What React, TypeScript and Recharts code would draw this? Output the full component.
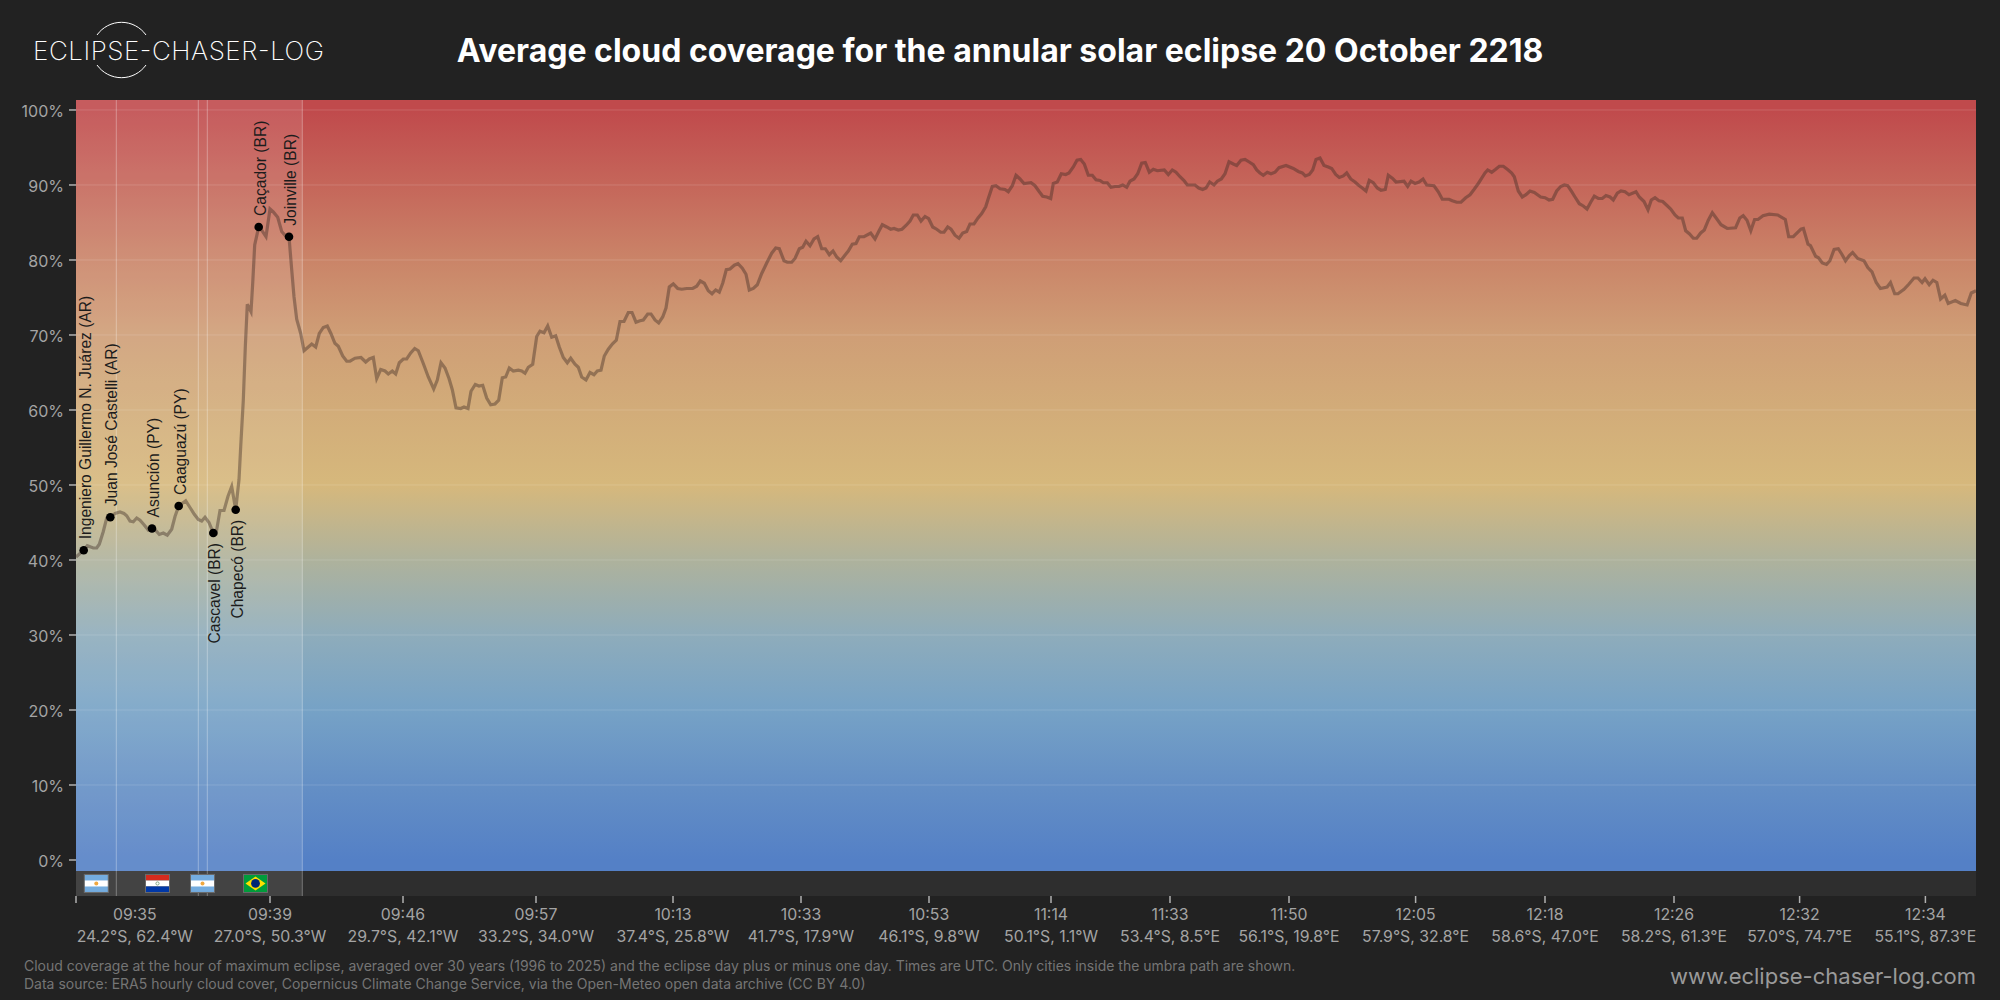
import React from "react";
import {
  ComposedChart,
  Line,
  ReferenceArea,
  ReferenceDot,
  ReferenceLine,
  XAxis,
  YAxis,
} from "recharts";

// [distance along the central line, cloud cover %]
const cloudTrace: [number, number][] = [
  [0, 40.4], [7.7, 41.3], [11.3, 41.9], [17.3, 41.6], [20.7, 41.6], [23.3, 42.1], [27.3, 43.8], [30.7, 45.6], [34.3, 45.7], [39, 46.2],
  [44, 46.4], [48, 46.2], [50.7, 45.9], [54, 45.2], [57.3, 45.1], [60.7, 45.6], [64, 45.3], [68, 44.7], [72.3, 44], [76, 44.2],
  [80, 43.9], [83.3, 43.4], [87.3, 43.6], [91.3, 43.3], [95.7, 44.1], [99, 45.8], [102.7, 47.2], [106.7, 47.6], [109.7, 47.9], [114, 47],
  [118.3, 46.1], [122.3, 45.4], [125.7, 45.2], [129, 45.7], [133, 45], [137.3, 43.6], [140, 43.5], [144, 46.6], [148, 46.6], [152, 48.5],
  [155.7, 49.8], [159.7, 46.7], [163, 50.7], [164.7, 55.1], [167.3, 61.3], [169.3, 68.4], [171.3, 74.1], [175, 73.1], [176.7, 76.9], [178.7, 82],
  [182.7, 84.4], [186, 83.9], [190, 83.1], [194, 86.8], [197.3, 86.4], [201.7, 85.7], [205.7, 83.8], [209.7, 83.2], [213, 83.1], [215.7, 78.7],
  [218, 75.1], [220.7, 72.1], [224.7, 70.2], [228, 67.9], [235.7, 68.8], [239.7, 68.4], [243.3, 70.2], [247.3, 71], [251.3, 71.2], [254.9, 70.2],
  [258.9, 68.9], [262.3, 68.5], [266.7, 67.2], [270.7, 66.5], [274, 66.5], [279, 66.9], [285, 67], [289.7, 66.4], [293.3, 66.8], [297.3, 67],
  [300.7, 64.2], [304.7, 65.4], [309, 65.2], [312.3, 64.8], [316.3, 65.2], [319.7, 64.8], [323.3, 66.3], [327.3, 66.8], [330.7, 66.8], [334.7, 67.6],
  [338.7, 68.2], [342.3, 67.9], [347.3, 66.2], [352.3, 64.4], [357.7, 62.8], [361.3, 64], [365, 66.3], [369, 65.6], [373, 64.2], [376.3, 62.7],
  [380, 60.3], [384.7, 60.2], [388, 60.4], [392, 60.2], [395, 62.5], [399.3, 63.4], [403, 63.2], [406.7, 63.3], [410.7, 61.6], [414.7, 60.7],
  [419, 60.8], [422.7, 61.3], [426.3, 64.3], [429.7, 64.4], [433.3, 65.6], [437.3, 65.2], [442.3, 65.3], [445.7, 65.2], [449, 64.9], [452.3, 65.7],
  [456.7, 66.1], [460.7, 69.8], [464, 70.5], [468, 70.3], [471.7, 71.2], [475.7, 69.7], [479.7, 69.9], [483.3, 68.4], [487.3, 67], [491.3, 66.3],
  [494.7, 66.9], [499, 66.1], [502.3, 65.7], [505.7, 64.4], [510, 64], [514, 65], [518, 64.7], [521.3, 65.2], [525, 65.3], [528.3, 67.2],
  [532.3, 68.1], [536.3, 68.8], [540.3, 69.3], [544, 71.8], [548, 71.8], [552.3, 73], [556, 73], [560, 71.7], [564, 71.9], [567.3, 72],
  [571.7, 72.8], [575, 72.8], [579, 72], [582.7, 71.6], [586.7, 72.4], [590, 73.6], [593.3, 76.4], [597.3, 76.8], [601.7, 76.2], [605.7, 76.1],
  [610.7, 76.2], [616.7, 76.2], [620.7, 76.5], [624.3, 77.2], [628.3, 76.9], [632.3, 75.9], [636, 75.5], [639.7, 76], [643.3, 75.7], [646.7, 76.9],
  [650.3, 78.7], [654, 78.8], [658.3, 79.3], [662, 79.5], [666.3, 78.9], [670, 78.1], [673.3, 76], [677.3, 76.2], [681.3, 76.7], [685.7, 78.2],
  [690.7, 79.6], [695.7, 80.9], [699.7, 81.6], [703.3, 81.5], [708, 79.9], [711.3, 79.7], [715.7, 79.7], [719, 80.2], [723.3, 81.5], [726.7, 81.7],
  [730, 82.5], [734, 81.9], [738, 82.8], [741.7, 83.1], [745.7, 81.5], [749.3, 81.5], [753.3, 80.7], [757, 81.2], [760.7, 80.4], [764.7, 79.9],
  [768.7, 80.6], [772.3, 81.2], [776.3, 82.1], [780, 82.2], [783.3, 83.1], [788, 83.1], [794.7, 83.6], [799, 82.8], [802.7, 83.8], [806.3, 84.7],
  [810.7, 84.4], [814.7, 84.1], [818, 84.2], [822.3, 84], [826, 84.1], [830, 84.6], [834, 85.2], [837.3, 86], [841.3, 86], [845, 85.2],
  [849, 85.8], [852.7, 85.5], [856.7, 84.4], [860.7, 84.1], [864.7, 83.7], [868, 83.7], [871.7, 84.4], [875, 84.1], [879, 83.3], [883, 82.9],
  [886.7, 83.6], [890.7, 83.8], [894, 84.8], [898, 84.8], [902, 85.6], [905.7, 86.2], [909.7, 87.1], [912.3, 88.2], [916.3, 89.8], [920, 89.9],
  [924, 89.5], [929, 89.4], [932.3, 89.1], [936.3, 89.9], [940, 91.3], [944, 90.8], [948, 90.2], [955, 90.3], [959, 89.9], [963.3, 89.1],
  [966.7, 88.5], [970.7, 88.4], [974.7, 88.2], [977.3, 90.2], [981.3, 90.4], [985.3, 91.5], [989.7, 91.4], [993, 91.6], [997.3, 92.4], [1001, 93.3],
  [1004.7, 93.4], [1008.3, 92.8], [1012.3, 91.3], [1016.3, 91.3], [1020, 90.7], [1024, 90.6], [1027.3, 90.3], [1031.3, 90.3], [1035, 89.7], [1039, 89.8],
  [1043, 89.8], [1046.7, 90], [1050.7, 89.7], [1054, 90.5], [1058, 90.8], [1061.7, 91.5], [1065.7, 92.9], [1069.3, 93], [1073.3, 91.7], [1077.3, 92.1],
  [1081.3, 91.9], [1088.3, 92], [1092.3, 91.4], [1096.3, 92], [1100, 91.7], [1104, 91.1], [1108, 90.6], [1111.3, 90], [1119, 90], [1122.7, 89.6],
  [1126.7, 89.4], [1130, 89.6], [1133.7, 90.4], [1138, 90], [1141.3, 90.5], [1145.3, 90.8], [1149, 91.5], [1153, 93.1], [1157.3, 92.8], [1160.7, 92.6],
  [1165, 93.3], [1169, 93.4], [1174, 93], [1177.3, 92.7], [1180.7, 92], [1184, 91.6], [1187.3, 91.3], [1191.3, 91.7], [1195, 91.5], [1199, 91.7],
  [1203, 92.3], [1210, 92.6], [1217.3, 92.2], [1222.3, 91.8], [1226.3, 91.6], [1229.3, 91.2], [1233.3, 91.4], [1236.7, 92], [1240, 93.4], [1244, 93.6],
  [1248, 92.6], [1252.3, 92.4], [1255.7, 92.2], [1259.7, 91.4], [1263.3, 91], [1267.3, 91.2], [1270.7, 91.6], [1274.7, 90.8], [1279, 90.4], [1282.3, 90],
  [1286.3, 89.6], [1290, 89.2], [1293.3, 90.6], [1297.3, 90.3], [1301.3, 89.6], [1305, 89.3], [1309.3, 89.4], [1312.3, 91.3], [1316.3, 90.9], [1320, 90.4],
  [1328, 90.5], [1331.7, 89.8], [1335, 90.5], [1339, 90.2], [1343, 90.4], [1347, 90.8], [1350.7, 90], [1358, 89.9], [1362.3, 89.1], [1366.3, 88.1],
  [1373, 88.1], [1376.3, 87.9], [1380.7, 87.7], [1385, 87.7], [1389.7, 88.3], [1394, 88.7], [1398, 89.4], [1402.3, 90.2], [1405.7, 90.9], [1409, 91.6],
  [1411.7, 92], [1415.7, 91.7], [1419.7, 92.1], [1423.3, 92.5], [1427.3, 92.5], [1431.3, 92.1], [1435.7, 91.6], [1438.3, 91.1], [1442.3, 89.2], [1446.3, 88.4],
  [1450, 88.7], [1454, 89.2], [1458.3, 89], [1464.7, 88.4], [1469, 88.3], [1473, 88], [1476.7, 88.1], [1480.7, 89.2], [1484.7, 89.8], [1488.3, 90],
  [1491.7, 89.9], [1495.7, 89.1], [1499, 88.4], [1503.3, 87.5], [1507.3, 87.2], [1511, 86.8], [1514.7, 87.7], [1518.3, 88.5], [1522.3, 88.2], [1526.3, 88.2],
  [1530, 88.6], [1534, 88.4], [1537.3, 88], [1541.3, 88.9], [1545, 89.2], [1549, 89.1], [1553, 88.7], [1560, 89.1], [1563.3, 88.4], [1568, 87.8],
  [1572, 86.7], [1575.3, 88], [1579, 88.3], [1583, 87.9], [1586.7, 87.8], [1590.7, 87.3], [1594.7, 86.8], [1599, 86], [1602.3, 85.6], [1606.3, 85.6],
  [1609.7, 83.9], [1613.3, 83.5], [1617.3, 82.9], [1620.7, 82.9], [1624.7, 83.6], [1628.3, 84], [1632.3, 85.3], [1636.3, 86.3], [1640.7, 85.5], [1645, 84.7],
  [1651.2, 84.2], [1659.6, 84.3], [1663.8, 85.6], [1667.2, 85.9], [1671, 85.3], [1674.8, 83.9], [1678.6, 85.4], [1682, 85.4], [1687, 85.9], [1693.3, 86.1],
  [1701.7, 86], [1709.3, 85.4], [1712.7, 83.1], [1717.3, 83.1], [1724.9, 84.1], [1727.4, 84.2], [1732, 82.1], [1734.5, 81.9], [1739.6, 80.5], [1742.5, 80.3],
  [1746.3, 79.6], [1750.5, 79.4], [1753.9, 79.9], [1758.1, 81.4], [1762.3, 81.5], [1765.7, 80.8], [1769.5, 79.9], [1773.3, 80.6], [1776.6, 81], [1781.7, 80.2],
  [1788, 79.9], [1791.8, 79], [1796, 78.4], [1800.2, 77], [1804.4, 76.2], [1811.1, 76.4], [1814.5, 77], [1818.7, 75.5], [1822, 75.5], [1828, 76.1],
  [1833, 76.8], [1838, 77.6], [1841.9, 77.6], [1846.1, 77], [1849, 77.5], [1853.2, 76.7], [1857, 77.3], [1860.8, 77], [1864.6, 74.8], [1868.8, 75.3],
  [1872.2, 74.2], [1879.3, 74.6], [1884.8, 74.2], [1891.1, 74], [1895.3, 75.6], [1900, 75.9],
];

const tickAlong = [0, 194, 327, 460, 597, 725, 853, 975, 1094, 1213, 1339.6, 1469, 1598, 1723.6, 1849.4];
const tickTimes = ["09:35", "09:39", "09:46", "09:57", "10:13", "10:33", "10:53", "11:14", "11:33", "11:50", "12:05", "12:18", "12:26", "12:32", "12:34"];
const tickCoords = [
  "24.2°S, 62.4°W", "27.0°S, 50.3°W", "29.7°S, 42.1°W", "33.2°S, 34.0°W", "37.4°S, 25.8°W",
  "41.7°S, 17.9°W", "46.1°S, 9.8°W", "50.1°S, 1.1°W", "53.4°S, 8.5°E", "56.1°S, 19.8°E",
  "57.9°S, 32.8°E", "58.6°S, 47.0°E", "58.2°S, 61.3°E", "57.0°S, 74.7°E", "55.1°S, 87.3°E",
];
const yTicks = [0, 10, 20, 30, 40, 50, 60, 70, 80, 90, 100];

const cityNames = [
  "Ingeniero Guillermo N. Juárez (AR)", "Juan José Castelli (AR)", "Asunción (PY)", "Caaguazú (PY)",
  "Cascavel (BR)", "Chapecó (BR)", "Caçador (BR)", "Joinville (BR)",
];
const cityAlong = [7.7, 34.3, 76, 102.7, 137.3, 159.7, 182.7, 213];
const cityCover = [41.3, 45.7, 44.2, 47.2, 43.6, 46.7, 84.4, 83.1];
const namesBelow = ["Cascavel (BR)", "Chapecó (BR)"];

// borders between countries and the end of the land part of the path
const borderAlong = [40.3, 122.3, 131.3, 226.3];
const landEnd = 226.3;

const flagCountries = ["AR", "PY", "AR", "BR"];
const flagAlong = [20.3, 81.5, 126.5, 179.5];

const colorStops: [number, string][] = [
  [100, "#c04a4c"],
  [90, "#c5665a"],
  [80, "#ca8468"],
  [70, "#cf9e76"],
  [60, "#d2ac79"],
  [50, "#d6b87c"],
  [40, "#aeb29c"],
  [30, "#8eacbb"],
  [20, "#76a2c6"],
  [10, "#648fc5"],
  [0, "#5480c6"],
];

const Y_MAX = 101.33;
const PLOT_FLOOR = -1.47;
const BAND_FLOOR = -4.8;
const FONT = "Inter, sans-serif";

const rows = cloudTrace.map(([along, cover]) => ({ along, cover }));

function Flag({ cx, cy, country }: { cx: number; cy: number; country: string }) {
  const w = 24;
  const h = 18;
  const x = cx - w / 2;
  const y = cy - h / 2;
  const third = h / 3;
  return (
    <g>
      {country === "AR" && (
        <>
          <rect x={x} y={y} width={w} height={h} fill="#74acdf" />
          <rect x={x} y={y + third} width={w} height={third} fill="#fff" />
          <circle cx={cx} cy={cy} r={2} fill="#f0a840" />
        </>
      )}
      {country === "PY" && (
        <>
          <rect x={x} y={y} width={w} height={third} fill="#d52b1e" />
          <rect x={x} y={y + third} width={w} height={third} fill="#fff" />
          <rect x={x} y={y + 2 * third} width={w} height={third} fill="#0038a8" />
          <circle cx={cx} cy={cy} r={1.6} fill="none" stroke="#5a8a5a" strokeWidth={0.7} />
        </>
      )}
      {country === "BR" && (
        <>
          <rect x={x} y={y} width={w} height={h} fill="#009c3b" />
          <polygon points={`${cx},${y + 2} ${x + w - 2},${cy} ${cx},${y + h - 2} ${x + 2},${cy}`} fill="#ffdf00" />
          <circle cx={cx} cy={cy} r={4.4} fill="#002776" />
        </>
      )}
      <rect x={x} y={y} width={w} height={h} fill="none" stroke="#6a6a6a" strokeWidth={1} />
    </g>
  );
}

function CityMark({ cx, cy, name }: { cx: number; cy: number; name: string }) {
  const below = namesBelow.includes(name);
  const tx = cx + 7;
  const ty = below ? cy + 10 : cy - 11;
  return (
    <g>
      <circle cx={cx} cy={cy} r={4.3} fill="#000" />
      <text
        x={tx}
        y={ty}
        transform={`rotate(-90 ${tx} ${ty})`}
        textAnchor={below ? "end" : "start"}
        fontFamily="'Liberation Sans', Arial, sans-serif"
        fontSize={15.6}
        fill="#1c1c1c"
      >
        {name}
      </text>
    </g>
  );
}

function PathTick({ x, y, payload, index }: any) {
  const first = index === 0;
  const cx = first ? x + 58.8 : x;
  return (
    <g fontFamily={FONT} fill="#a4a4a4" textAnchor="middle">
      <text x={cx} y={y + 15} fontSize={15.8}>
        {tickTimes[tickAlong.indexOf(payload.value)]}
      </text>
      <text x={cx} y={y + 37} fontSize={15.8}>
        {tickCoords[tickAlong.indexOf(payload.value)]}
      </text>
    </g>
  );
}

export default function App() {
  return (
    <div style={{ position: "absolute", left: 0, top: 0, width: 2000, height: 1000, background: "#222222", overflow: "hidden" }}>
      <svg width={360} height={100} style={{ position: "absolute", left: 0, top: 0 }}>
        <path d="M97 35 A30 30 0 0 1 146 35" fill="none" stroke="#fff" strokeWidth={1} />
        <path d="M97 65 A30 30 0 0 0 146 65" fill="none" stroke="#fff" strokeWidth={1} />
        <text x={33} y={59.5} fontFamily={FONT} fontWeight={200} fontSize={26} fill="#fff" textLength={291}>
          ECLIPSE-CHASER-LOG
        </text>
      </svg>
      <div
        style={{
          position: "absolute",
          left: 0,
          width: 2000,
          top: 30,
          textAlign: "center",
          fontFamily: FONT,
          fontWeight: 700,
          fontSize: 32,
          lineHeight: "42px",
          color: "#fff",
        }}
      >
        Average cloud coverage for the annular solar eclipse 20 October 2218
      </div>

      <ComposedChart
        width={2000}
        height={1000}
        data={rows}
        margin={{ top: 100, right: 24, bottom: 0, left: 0 }}
        style={{ position: "absolute", left: 0, top: 0 }}
      >
        <defs>
          <linearGradient id="cloudGradient" x1="0" y1="0" x2="0" y2="1">
            {colorStops.map(([value, color]) => (
              <stop key={value} offset={(Y_MAX - value) / (Y_MAX - PLOT_FLOOR)} stopColor={color} />
            ))}
          </linearGradient>
        </defs>
        <XAxis
          type="number"
          dataKey="along"
          domain={[0, 1900]}
          ticks={tickAlong}
          interval={0}
          height={104}
          axisLine={false}
          tickLine={{ stroke: "#b0b0b0", strokeWidth: 1.5 }}
          tickSize={7}
          tick={<PathTick />}
        />
        <YAxis
          type="number"
          domain={[BAND_FLOOR, Y_MAX]}
          ticks={yTicks}
          interval={0}
          width={76}
          axisLine={false}
          tickLine={{ stroke: "#b0b0b0", strokeWidth: 1.5 }}
          tickSize={7}
          tickMargin={5}
          tick={{ fill: "#a4a4a4", fontSize: 16, fontFamily: FONT, dy: 1 }}
          tickFormatter={(v) => `${v}%`}
        />
        <ReferenceArea x1={0} x2={1900} y1={PLOT_FLOOR} y2={Y_MAX} fill="url(#cloudGradient)" fillOpacity={1} stroke="none" />
        <ReferenceArea x1={0} x2={1900} y1={BAND_FLOOR} y2={PLOT_FLOOR} fill="#2e2e2e" fillOpacity={1} stroke="none" />
        {yTicks.slice(1).map((v) => (
          <ReferenceLine key={v} y={v} stroke="rgba(255,255,255,0.14)" strokeWidth={1} />
        ))}
        <ReferenceArea x1={0} x2={landEnd} y1={BAND_FLOOR} y2={Y_MAX} fill="#ffffff" fillOpacity={0.1} stroke="none" />
        {borderAlong.map((x) => (
          <ReferenceLine key={x} x={x} stroke="rgba(255,255,255,0.32)" strokeWidth={1} />
        ))}
        <Line
          dataKey="cover"
          type="linear"
          stroke="rgba(62,44,36,0.42)"
          strokeWidth={3.2}
          dot={false}
          activeDot={false}
          isAnimationActive={false}
        />
        {cityNames.map((name, i) => (
          <ReferenceDot
            key={name}
            x={cityAlong[i]}
            y={cityCover[i]}
            shape={(p: any) => <CityMark cx={p.cx} cy={p.cy} name={name} />}
          />
        ))}
        {flagCountries.map((country, i) => (
          <ReferenceDot
            key={i}
            x={flagAlong[i]}
            y={-3.13}
            shape={(p: any) => <Flag cx={p.cx} cy={p.cy} country={country} />}
          />
        ))}
      </ComposedChart>

      <div
        style={{
          position: "absolute",
          left: 24,
          top: 957,
          fontFamily: FONT,
          fontSize: 14,
          lineHeight: "18.4px",
          color: "#757575",
          whiteSpace: "nowrap",
        }}
      >
        <div>Cloud coverage at the hour of maximum eclipse, averaged over 30 years (1996 to 2025) and the eclipse day plus or minus one day. Times are UTC. Only cities inside the umbra path are shown.</div>
        <div>Data source: ERA5 hourly cloud cover, Copernicus Climate Change Service, via the Open-Meteo open data archive (CC BY 4.0)</div>
      </div>
      <div
        style={{
          position: "absolute",
          right: 24,
          top: 962,
          fontFamily: FONT,
          fontSize: 22,
          lineHeight: "28px",
          color: "#9a9a9a",
          whiteSpace: "nowrap",
        }}
      >
        www.eclipse-chaser-log.com
      </div>
    </div>
  );
}
